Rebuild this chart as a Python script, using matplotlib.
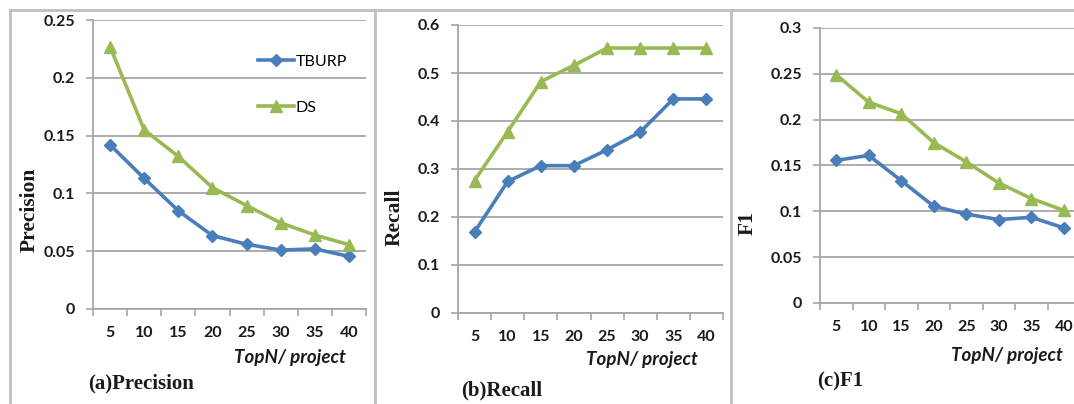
import matplotlib
matplotlib.use("Agg")
import matplotlib.pyplot as plt
from matplotlib.lines import Line2D
import numpy as np

# data
topn = [5, 10, 15, 20, 25, 30, 35, 40]

prec_tburp = [0.142, 0.113, 0.085, 0.0635, 0.056, 0.051, 0.052, 0.0455]
prec_ds = [0.227, 0.155, 0.132, 0.105, 0.0895, 0.0745, 0.064, 0.0557]

rec_tburp = [0.169, 0.274, 0.307, 0.307, 0.340, 0.377, 0.446, 0.446]
rec_ds = [0.276, 0.378, 0.482, 0.516, 0.552, 0.552, 0.552, 0.552]

f1_tburp = [0.1556, 0.161, 0.1335, 0.1055, 0.097, 0.091, 0.0935, 0.082]
f1_ds = [0.249, 0.219, 0.2065, 0.175, 0.154, 0.131, 0.114, 0.101]

series_names = ["TBURP", "DS"]

BLUE = "#4A7EBB"
GREEN = "#98B954"
GRID = "#A6A6A6"
TXT = "#1A1A1A"

W, H = 1074, 404
fig = plt.figure(figsize=(W / 100, H / 100), dpi=100)


def px_axes(left, top, right, bottom):
    return fig.add_axes([left / W, 1 - bottom / H, (right - left) / W, (bottom - top) / H])


def draw_panel(ax, tburp, ds, ymax, step, fmt, ylabel, caption, cap_xy, ylab_xy, xlab_xy):
    x = np.arange(len(topn))
    ax.plot(x, tburp, color=BLUE, lw=2.6, marker="D", ms=6.5, label=series_names[0], zorder=3)
    ax.plot(x, ds, color=GREEN, lw=2.6, marker="^", ms=8.5, label=series_names[1], zorder=3)
    ax.set_xlim(-0.5, len(topn) - 0.5)
    ax.set_ylim(0, ymax)
    yt = np.arange(0, ymax + step / 2, step)
    ax.set_yticks(yt)
    ax.set_yticklabels([fmt(v) for v in yt])
    ax.set_xticks(x)
    ax.set_xticklabels([str(t) for t in topn])
    ax.set_xticks(np.arange(-0.5, len(topn)), minor=True)
    ax.tick_params(axis="x", which="major", length=0, pad=12)
    ax.tick_params(axis="x", which="minor", length=5, width=1.2, color=GRID, direction="out")
    ax.tick_params(axis="y", length=5, width=1.2, color=GRID, pad=8)
    for lab in ax.get_xticklabels() + ax.get_yticklabels():
        lab.set_family("Lato")
        lab.set_weight("bold")
        lab.set_fontsize(11.5)
        lab.set_color(TXT)
    ax.grid(axis="y", color=GRID, lw=1.3)
    ax.set_axisbelow(True)
    for s in ["top", "right"]:
        ax.spines[s].set_visible(False)
    for s in ["left", "bottom"]:
        ax.spines[s].set_color(GRID)
        ax.spines[s].set_linewidth(1.3)
    ax.set_facecolor("none")
    fig.text(ylab_xy[0] / W, 1 - ylab_xy[1] / H, ylabel, rotation=90, ha="center", va="center",
             family="Liberation Serif", weight="bold", fontsize=15.5, color=TXT)
    fig.text(cap_xy[0] / W, 1 - cap_xy[1] / H, caption, ha="left", va="center",
             family="Liberation Serif", weight="bold", fontsize=15, color=TXT)
    fig.text(xlab_xy[0] / W, 1 - xlab_xy[1] / H, "TopN/ project", ha="right", va="center",
             family="Lato", weight="bold", style="italic", fontsize=13.5, color=TXT)


ax1 = px_axes(93, 20, 366, 309)
draw_panel(ax1, prec_tburp, prec_ds, 0.25, 0.05, lambda v: "0" if v == 0 else f"{v:g}",
           "Precision", "(a)Precision", (88, 383), (30, 210), (346, 358))
ax1.legend(loc="upper left", bbox_to_anchor=(0.55, 0.93), frameon=False, handlelength=2.3,
           labelspacing=2.0, handletextpad=0.1, prop={"family": "Lato", "size": 11.5})

ax2 = px_axes(458, 25, 723, 313)
draw_panel(ax2, rec_tburp, rec_ds, 0.6, 0.1, lambda v: "0" if v == 0 else f"{v:.1f}",
           "Recall", "(b)Recall", (461, 390), (395, 217), (698, 359))

ax3 = px_axes(820, 28, 1080, 303)
draw_panel(ax3, f1_tburp, f1_ds, 0.3, 0.05, lambda v: "0" if v == 0 else f"{v:g}",
           "F1", "(c)F1", (817, 381), (748, 223), (1063, 355))

# panel frames
BORDER = "#BFBFBF"
fig.add_artist(Line2D([10 / W, 1], [1 - 10 / H, 1 - 10 / H], color=BORDER, lw=2))
for xb in [10, 375, 731]:
    fig.add_artist(Line2D([xb / W, xb / W], [0, 1 - 10 / H], color=BORDER, lw=2))

fig.savefig("out.png", dpi=100)
